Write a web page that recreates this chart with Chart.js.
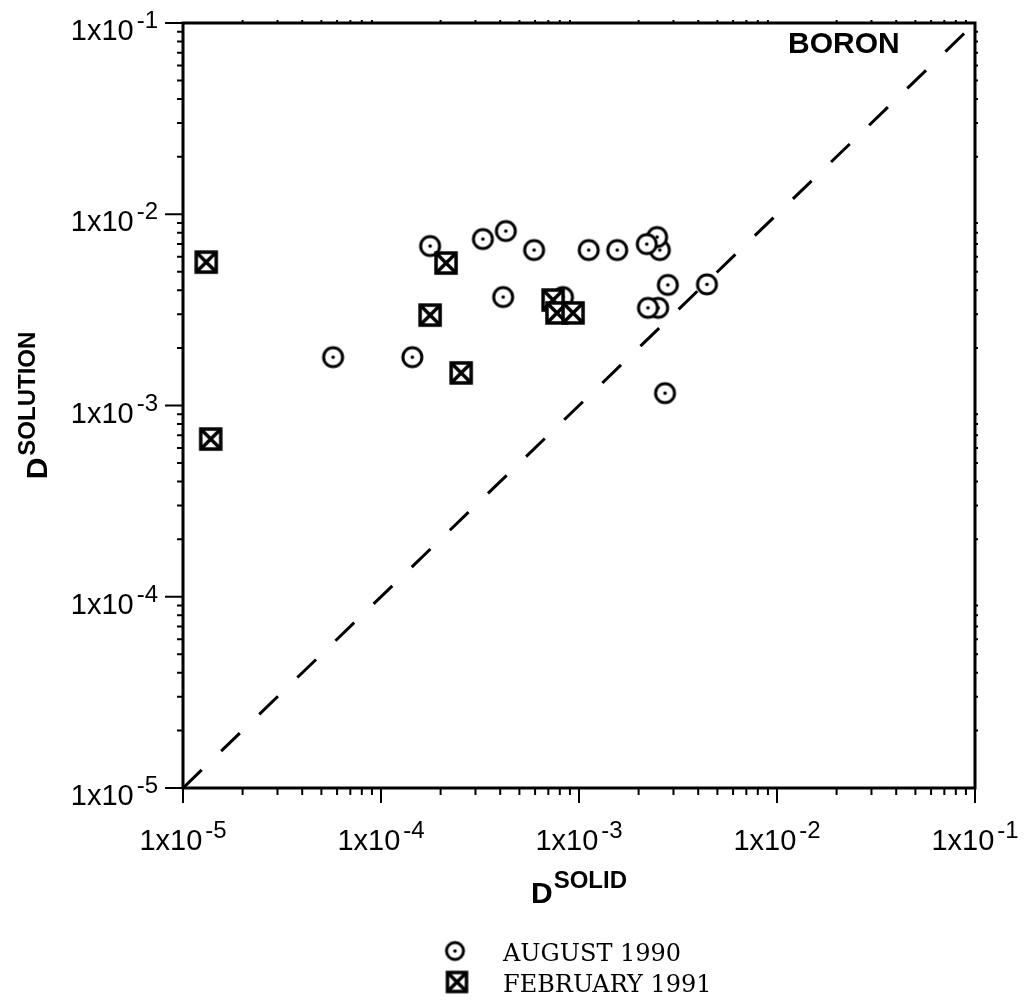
<!DOCTYPE html>
<html>
<head>
<meta charset="utf-8">
<script src="https://cdn.jsdelivr.net/npm/chart.js@4.4.1/dist/chart.umd.min.js"></script>
<style>
html, body { margin: 0; padding: 0; background: #fff; }
#wrap { width: 1030px; height: 1002px; }
</style>
</head>
<body>
<div id="wrap"><canvas id="chart" width="1030" height="1002"></canvas></div>
<script>
// August 1990 : D solid vs D solution
var augSolid    = [5.73e-5, 1.44e-4, 1.77e-4, 3.27e-4, 4.27e-4, 4.14e-4, 5.93e-4, 8.3e-4, 1.12e-3,
                   1.56e-3, 2.56e-3, 2.48e-3, 2.20e-3, 2.51e-3, 2.23e-3, 2.81e-3, 4.43e-3, 2.72e-3];
var augSolution = [1.79e-3, 1.79e-3, 6.82e-3, 7.42e-3, 8.17e-3, 3.69e-3, 6.5e-3, 3.69e-3, 6.5e-3,
                   6.5e-3, 6.5e-3, 7.6e-3, 6.98e-3, 3.24e-3, 3.24e-3, 4.27e-3, 4.3e-3, 1.16e-3];
// February 1991
var febSolid    = [1.31e-5, 1.38e-5, 2.13e-4, 1.77e-4, 2.54e-4, 7.40e-4, 7.74e-4, 9.33e-4];
var febSolution = [5.62e-3, 6.68e-4, 5.56e-3, 2.97e-3, 1.48e-3, 3.56e-3, 3.05e-3, 3.05e-3];
// 1:1 line
var lineEnds = [1e-5, 1e-1];
var tickExponents = [-5, -4, -3, -2, -1];
var seriesNames = ['AUGUST 1990', 'FEBRUARY 1991'];
var panelTitle = 'BORON';

function toPoints(xs, ys) {
	var out = [];
	for (var i = 0; i < xs.length; i++) out.push({x: xs[i], y: ys[i]});
	return out;
}

//marker images
function circleMarker(r) {
	var c = document.createElement('canvas');
	var s = Math.ceil(2 * r + 6);
	c.width = s; c.height = s;
	var g = c.getContext('2d');
	g.fillStyle = '#fff';
	g.beginPath(); g.arc(s / 2, s / 2, r, 0, 2 * Math.PI); g.fill();
	g.lineWidth = 3; g.strokeStyle = '#000'; g.stroke();
	g.fillStyle = '#000';
	g.beginPath(); g.arc(s / 2, s / 2, 1.8, 0, 2 * Math.PI); g.fill();
	return c;
}
function squareMarker(h) {
	var c = document.createElement('canvas');
	var s = Math.ceil(2 * h + 6);
	c.width = s; c.height = s;
	var g = c.getContext('2d');
	var a = s / 2 - h, b = s / 2 + h;
	g.fillStyle = '#fff';
	g.fillRect(a, a, 2 * h, 2 * h);
	g.strokeStyle = '#000';
	g.lineWidth = 3.5;
	g.strokeRect(a, a, 2 * h, 2 * h);
	g.beginPath();
	g.moveTo(a, a); g.lineTo(b, b);
	g.moveTo(b, a); g.lineTo(a, b);
	g.stroke();
	return c;
}
var circleImg = circleMarker(9.5);
var squareImg = squareMarker(10);
var circleLeg = circleMarker(8.5);
var squareLeg = squareMarker(9.5);

var mainFont = '29px "Liberation Sans"';
var supFont = '24px "Liberation Sans"';

function powLabel(ctx, exp, x, baseline, align) {
	var main = '1x10', sup = String(exp);
	ctx.font = mainFont;
	var wm = ctx.measureText(main).width;
	ctx.font = supFont;
	var ws = ctx.measureText(sup).width;
	var total = wm + 3 + ws;
	var left = align === 'center' ? x - total / 2 : x - total;
	ctx.textAlign = 'left';
	ctx.textBaseline = 'alphabetic';
	ctx.font = mainFont;
	ctx.fillText(main, left, baseline);
	ctx.font = supFont;
	ctx.fillText(sup, left + wm + 3, baseline - 12);
}

var framePlugin = {
	id: 'frame',
	afterDraw: function (chart) {
		var ctx = chart.ctx;
		var a = chart.chartArea;
		var xs = chart.scales.x, ys = chart.scales.y;
		ctx.save();
		ctx.strokeStyle = '#000';
		ctx.fillStyle = '#000';

		// ticks
		ctx.lineWidth = 2;
		ctx.beginPath();
		for (var i = 0; i < tickExponents.length; i++) {
			var e = tickExponents[i];
			var base = Math.pow(10, e);
			var px = xs.getPixelForValue(base), py = ys.getPixelForValue(base);
			ctx.moveTo(px, a.bottom); ctx.lineTo(px, a.bottom + 15);
			ctx.moveTo(a.left, py); ctx.lineTo(a.left - 18, py);
			if (i == tickExponents.length - 1) break;
			for (var k = 2; k <= 9; k++) {
				var mx = xs.getPixelForValue(k * base), my = ys.getPixelForValue(k * base);
				ctx.moveTo(mx, a.bottom); ctx.lineTo(mx, a.bottom + 7);
				ctx.moveTo(a.left, my); ctx.lineTo(a.left - 6, my);
				ctx.moveTo(mx, a.top); ctx.lineTo(mx, a.top - 3);
				ctx.moveTo(a.right, my); ctx.lineTo(a.right + 3, my);
			}
		}
		ctx.stroke();

		// frame
		ctx.lineWidth = 3;
		ctx.strokeRect(a.left, a.top, a.right - a.left, a.bottom - a.top);

		// tick labels
		for (var j = 0; j < tickExponents.length; j++) {
			var v = Math.pow(10, tickExponents[j]);
			powLabel(ctx, tickExponents[j], xs.getPixelForValue(v), 850, 'center');
			powLabel(ctx, tickExponents[j], 158, ys.getPixelForValue(v) + 17, 'right');
		}

		// axis titles
		var dFont = 'bold 30px "Liberation Sans"', sFont = 'bold 24px "Liberation Sans"';
		ctx.textAlign = 'left';
		ctx.font = dFont;
		var wd = ctx.measureText('D').width;
		ctx.font = sFont;
		var wsol = ctx.measureText('SOLID').width;
		var cx = (a.left + a.right) / 2;
		var lx = cx - (wd + 1 + wsol) / 2;
		ctx.font = dFont; ctx.fillText('D', lx, 903);
		ctx.font = sFont; ctx.fillText('SOLID', lx + wd + 1, 888);

		ctx.save();
		ctx.translate(47, (a.top + a.bottom) / 2);
		ctx.rotate(-Math.PI / 2);
		ctx.font = sFont;
		var wsl = ctx.measureText('SOLUTION').width;
		var ly = -(wd + 2 + wsl) / 2;
		ctx.font = dFont; ctx.fillText('D', ly, 0);
		ctx.font = sFont; ctx.fillText('SOLUTION', ly + wd + 2, -12);
		ctx.restore();

		// panel label
		ctx.font = 'bold 30px "Liberation Sans"';
		ctx.fillText(panelTitle, 788, 53);

		// legend
		ctx.drawImage(circleLeg, 455 - circleLeg.width / 2, 951 - circleLeg.height / 2);
		ctx.drawImage(squareLeg, 457 - squareLeg.width / 2, 982 - squareLeg.height / 2);
		ctx.font = '24px "DejaVu Serif"';
		ctx.fillText(seriesNames[0], 503, 961);
		ctx.fillText(seriesNames[1], 503, 992);
		ctx.restore();
	}
};

new Chart(document.getElementById('chart'), {
	type: 'scatter',
	data: {
		datasets: [
			{
				label: seriesNames[0],
				data: toPoints(augSolid, augSolution),
				pointStyle: circleImg,
				order: 2
			},
			{
				label: seriesNames[1],
				data: toPoints(febSolid, febSolution),
				pointStyle: squareImg,
				order: 1
			},
			{
				label: '1:1',
				type: 'line',
				data: toPoints(lineEnds, lineEnds),
				borderColor: '#000',
				borderWidth: 3,
				borderDash: [26, 27],
				pointRadius: 0,
				fill: false,
				order: 3
			}
		]
	},
	options: {
		responsive: false,
		animation: false,
		layout: { padding: { left: 183, right: 55, top: 23, bottom: 214 } },
		scales: {
			x: { type: 'logarithmic', min: 1e-5, max: 1e-1, display: false },
			y: { type: 'logarithmic', min: 1e-5, max: 1e-1, display: false }
		},
		plugins: {
			legend: { display: false },
			tooltip: { enabled: false }
		}
	},
	plugins: [framePlugin]
});
</script>
</body>
</html>
